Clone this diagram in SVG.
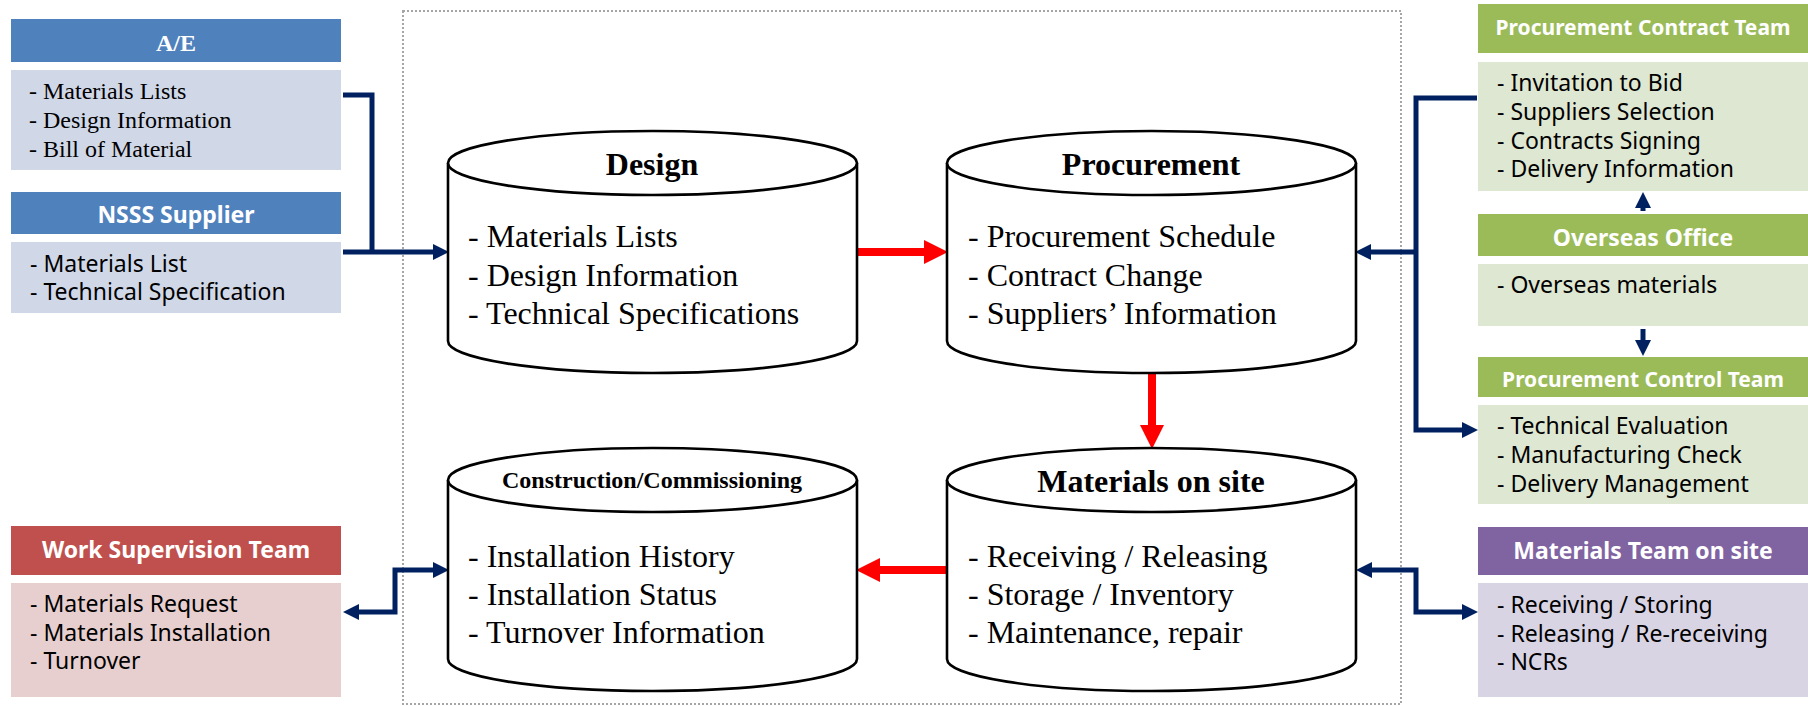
<svg xmlns="http://www.w3.org/2000/svg" width="1808" height="706" viewBox="0 0 1808 706">
<defs>
<style>
.serif{font-family:"Liberation Serif","Times New Roman",serif;fill:#000}
.sans{font-family:"Noto Sans","Open Sans",sans-serif;fill:#000}
.hdr{font-family:"Noto Sans","Open Sans",sans-serif;font-weight:bold;fill:#fff;text-anchor:middle}
.cyl{fill:#fff;stroke:#000;stroke-width:2.6}
.ctitle{font-family:"Liberation Serif","Times New Roman",serif;font-weight:bold;font-size:32px;text-anchor:middle}
.cbody{font-family:"Liberation Serif","Times New Roman",serif;font-size:32px}
.navy{fill:none;stroke:#002060;stroke-width:5}
.red{fill:none;stroke:#FF0000;stroke-width:8}
.sbody{font-family:"Noto Sans","Open Sans",sans-serif;font-size:23px;fill:#000}
</style>
<marker id="an" markerUnits="userSpaceOnUse" markerWidth="16" markerHeight="16" refX="0" refY="8" orient="auto-start-reverse"><path d="M0,0 L16,8 L0,16 Z" fill="#002060"/></marker>
<marker id="ar" markerUnits="userSpaceOnUse" markerWidth="24" markerHeight="24" refX="0" refY="12" orient="auto-start-reverse"><path d="M0,0 L24,12 L0,24 Z" fill="#FF0000"/></marker>
</defs>
<rect width="1808" height="706" fill="#fff"/>
<rect x="403" y="11" width="998" height="693" fill="none" stroke="#A6A6A6" stroke-width="2" stroke-dasharray="2 2"/>

<g id="connectors">
<path class="navy" d="M343,95 H372 V252"/>
<path class="navy" d="M343,252 H433" marker-end="url(#an)"/>
<path class="red" d="M857,252 H924" marker-end="url(#ar)"/>
<path class="navy" d="M1477,98 H1416 V430 H1462" marker-end="url(#an)"/>
<path class="navy" d="M1416,252 H1371" marker-end="url(#an)"/>
<path class="navy" d="M1643,211 V208" marker-end="url(#an)"/>
<path class="navy" d="M1643,329 V340" marker-end="url(#an)"/>
<path class="red" d="M1152,373 V425" marker-end="url(#ar)"/>
<path class="red" d="M947,570 H880" marker-end="url(#ar)"/>
<path class="navy" d="M1372,570 H1416 V612 H1462" marker-start="url(#an)" marker-end="url(#an)"/>
<path class="navy" d="M433,570 H395 V612 H359" marker-start="url(#an)" marker-end="url(#an)"/>
</g>

<g id="ae">
<rect x="11" y="19" width="330" height="43" fill="#4F81BD"/>
<text x="176" y="51" class="serif" font-size="24" font-weight="bold" text-anchor="middle" style="fill:#fff">A/E</text>
<rect x="11" y="70" width="330" height="100" fill="#D0D8E8"/>
<text class="serif" font-size="24"><tspan x="29" y="99">- Materials Lists</tspan><tspan x="29" y="128">- Design Information</tspan><tspan x="29" y="157">- Bill of Material</tspan></text>
</g>

<g id="nsss">
<rect x="11" y="192" width="330" height="42" fill="#4F81BD"/>
<text x="176" y="223" class="hdr" font-size="23">NSSS Supplier</text>
<rect x="11" y="242" width="330" height="71" fill="#D0D8E8"/>
<text class="sbody"><tspan x="30" y="272">- Materials List</tspan><tspan x="30" y="300">- Technical Specification</tspan></text>
</g>

<g id="wst">
<rect x="11" y="526" width="330" height="49" fill="#C0504D"/>
<text x="176" y="558" class="hdr" font-size="23">Work Supervision Team</text>
<rect x="11" y="583" width="330" height="114" fill="#E7CFCF"/>
<text class="sbody"><tspan x="30" y="612">- Materials Request</tspan><tspan x="30" y="641">- Materials Installation</tspan><tspan x="30" y="669">- Turnover</tspan></text>
</g>

<g id="pct">
<rect x="1478" y="4" width="330" height="49" fill="#9BBB59"/>
<text x="1643" y="35" class="hdr" font-size="21">Procurement Contract Team</text>
<rect x="1478" y="62" width="330" height="129" fill="#DEE7D1"/>
<text class="sbody"><tspan x="1497" y="91">- Invitation to Bid</tspan><tspan x="1497" y="120">- Suppliers Selection</tspan><tspan x="1497" y="149">- Contracts Signing</tspan><tspan x="1497" y="177">- Delivery Information</tspan></text>
</g>

<g id="overseas">
<rect x="1478" y="214" width="330" height="42" fill="#9BBB59"/>
<text x="1643" y="246" class="hdr" font-size="23">Overseas Office</text>
<rect x="1478" y="264" width="330" height="62" fill="#DEE7D1"/>
<text class="sbody"><tspan x="1497" y="293">- Overseas materials</tspan></text>
</g>

<g id="pctrl">
<rect x="1478" y="357" width="330" height="40" fill="#9BBB59"/>
<text x="1643" y="387" class="hdr" font-size="21">Procurement Control Team</text>
<rect x="1478" y="405" width="330" height="99" fill="#DEE7D1"/>
<text class="sbody"><tspan x="1497" y="434">- Technical Evaluation</tspan><tspan x="1497" y="463">- Manufacturing Check</tspan><tspan x="1497" y="492">- Delivery Management</tspan></text>
</g>

<g id="mts">
<rect x="1478" y="527" width="330" height="48" fill="#8064A2"/>
<text x="1643" y="559" class="hdr" font-size="23">Materials Team on site</text>
<rect x="1478" y="583" width="330" height="114" fill="#D9D4E4"/>
<text class="sbody"><tspan x="1497" y="613">- Receiving / Storing</tspan><tspan x="1497" y="642">- Releasing / Re-receiving</tspan><tspan x="1497" y="670">- NCRs</tspan></text>
</g>

<g id="design">
<path class="cyl" d="M448,163 V341 A204.5,32 0 0 0 857,341 V163"/>
<ellipse class="cyl" cx="652.5" cy="163" rx="204.5" ry="32"/>
<text x="652" y="175" class="ctitle">Design</text>
<text class="cbody"><tspan x="468" y="247">- Materials Lists</tspan><tspan x="468" y="286">- Design Information</tspan><tspan x="468" y="324">- Technical Specifications</tspan></text>
</g>

<g id="procurement">
<path class="cyl" d="M947,163 V341 A204.5,32 0 0 0 1356,341 V163"/>
<ellipse class="cyl" cx="1151.5" cy="163" rx="204.5" ry="32"/>
<text x="1151" y="175" class="ctitle">Procurement</text>
<text class="cbody"><tspan x="968" y="247">- Procurement Schedule</tspan><tspan x="968" y="286">- Contract Change</tspan><tspan x="968" y="324">- Suppliers’ Information</tspan></text>
</g>

<g id="construction">
<path class="cyl" d="M448,480 V659 A204.5,32 0 0 0 857,659 V480"/>
<ellipse class="cyl" cx="652.5" cy="480" rx="204.5" ry="32"/>
<text x="652" y="488" class="ctitle" style="font-size:24px">Construction/Commissioning</text>
<text class="cbody"><tspan x="468" y="567">- Installation History</tspan><tspan x="468" y="605">- Installation Status</tspan><tspan x="468" y="643">- Turnover Information</tspan></text>
</g>

<g id="materials">
<path class="cyl" d="M947,480 V659 A204.5,32 0 0 0 1356,659 V480"/>
<ellipse class="cyl" cx="1151.5" cy="480" rx="204.5" ry="32"/>
<text x="1151" y="492" class="ctitle">Materials on site</text>
<text class="cbody"><tspan x="968" y="567">- Receiving / Releasing</tspan><tspan x="968" y="605">- Storage / Inventory</tspan><tspan x="968" y="643">- Maintenance, repair</tspan></text>
</g>
</svg>
